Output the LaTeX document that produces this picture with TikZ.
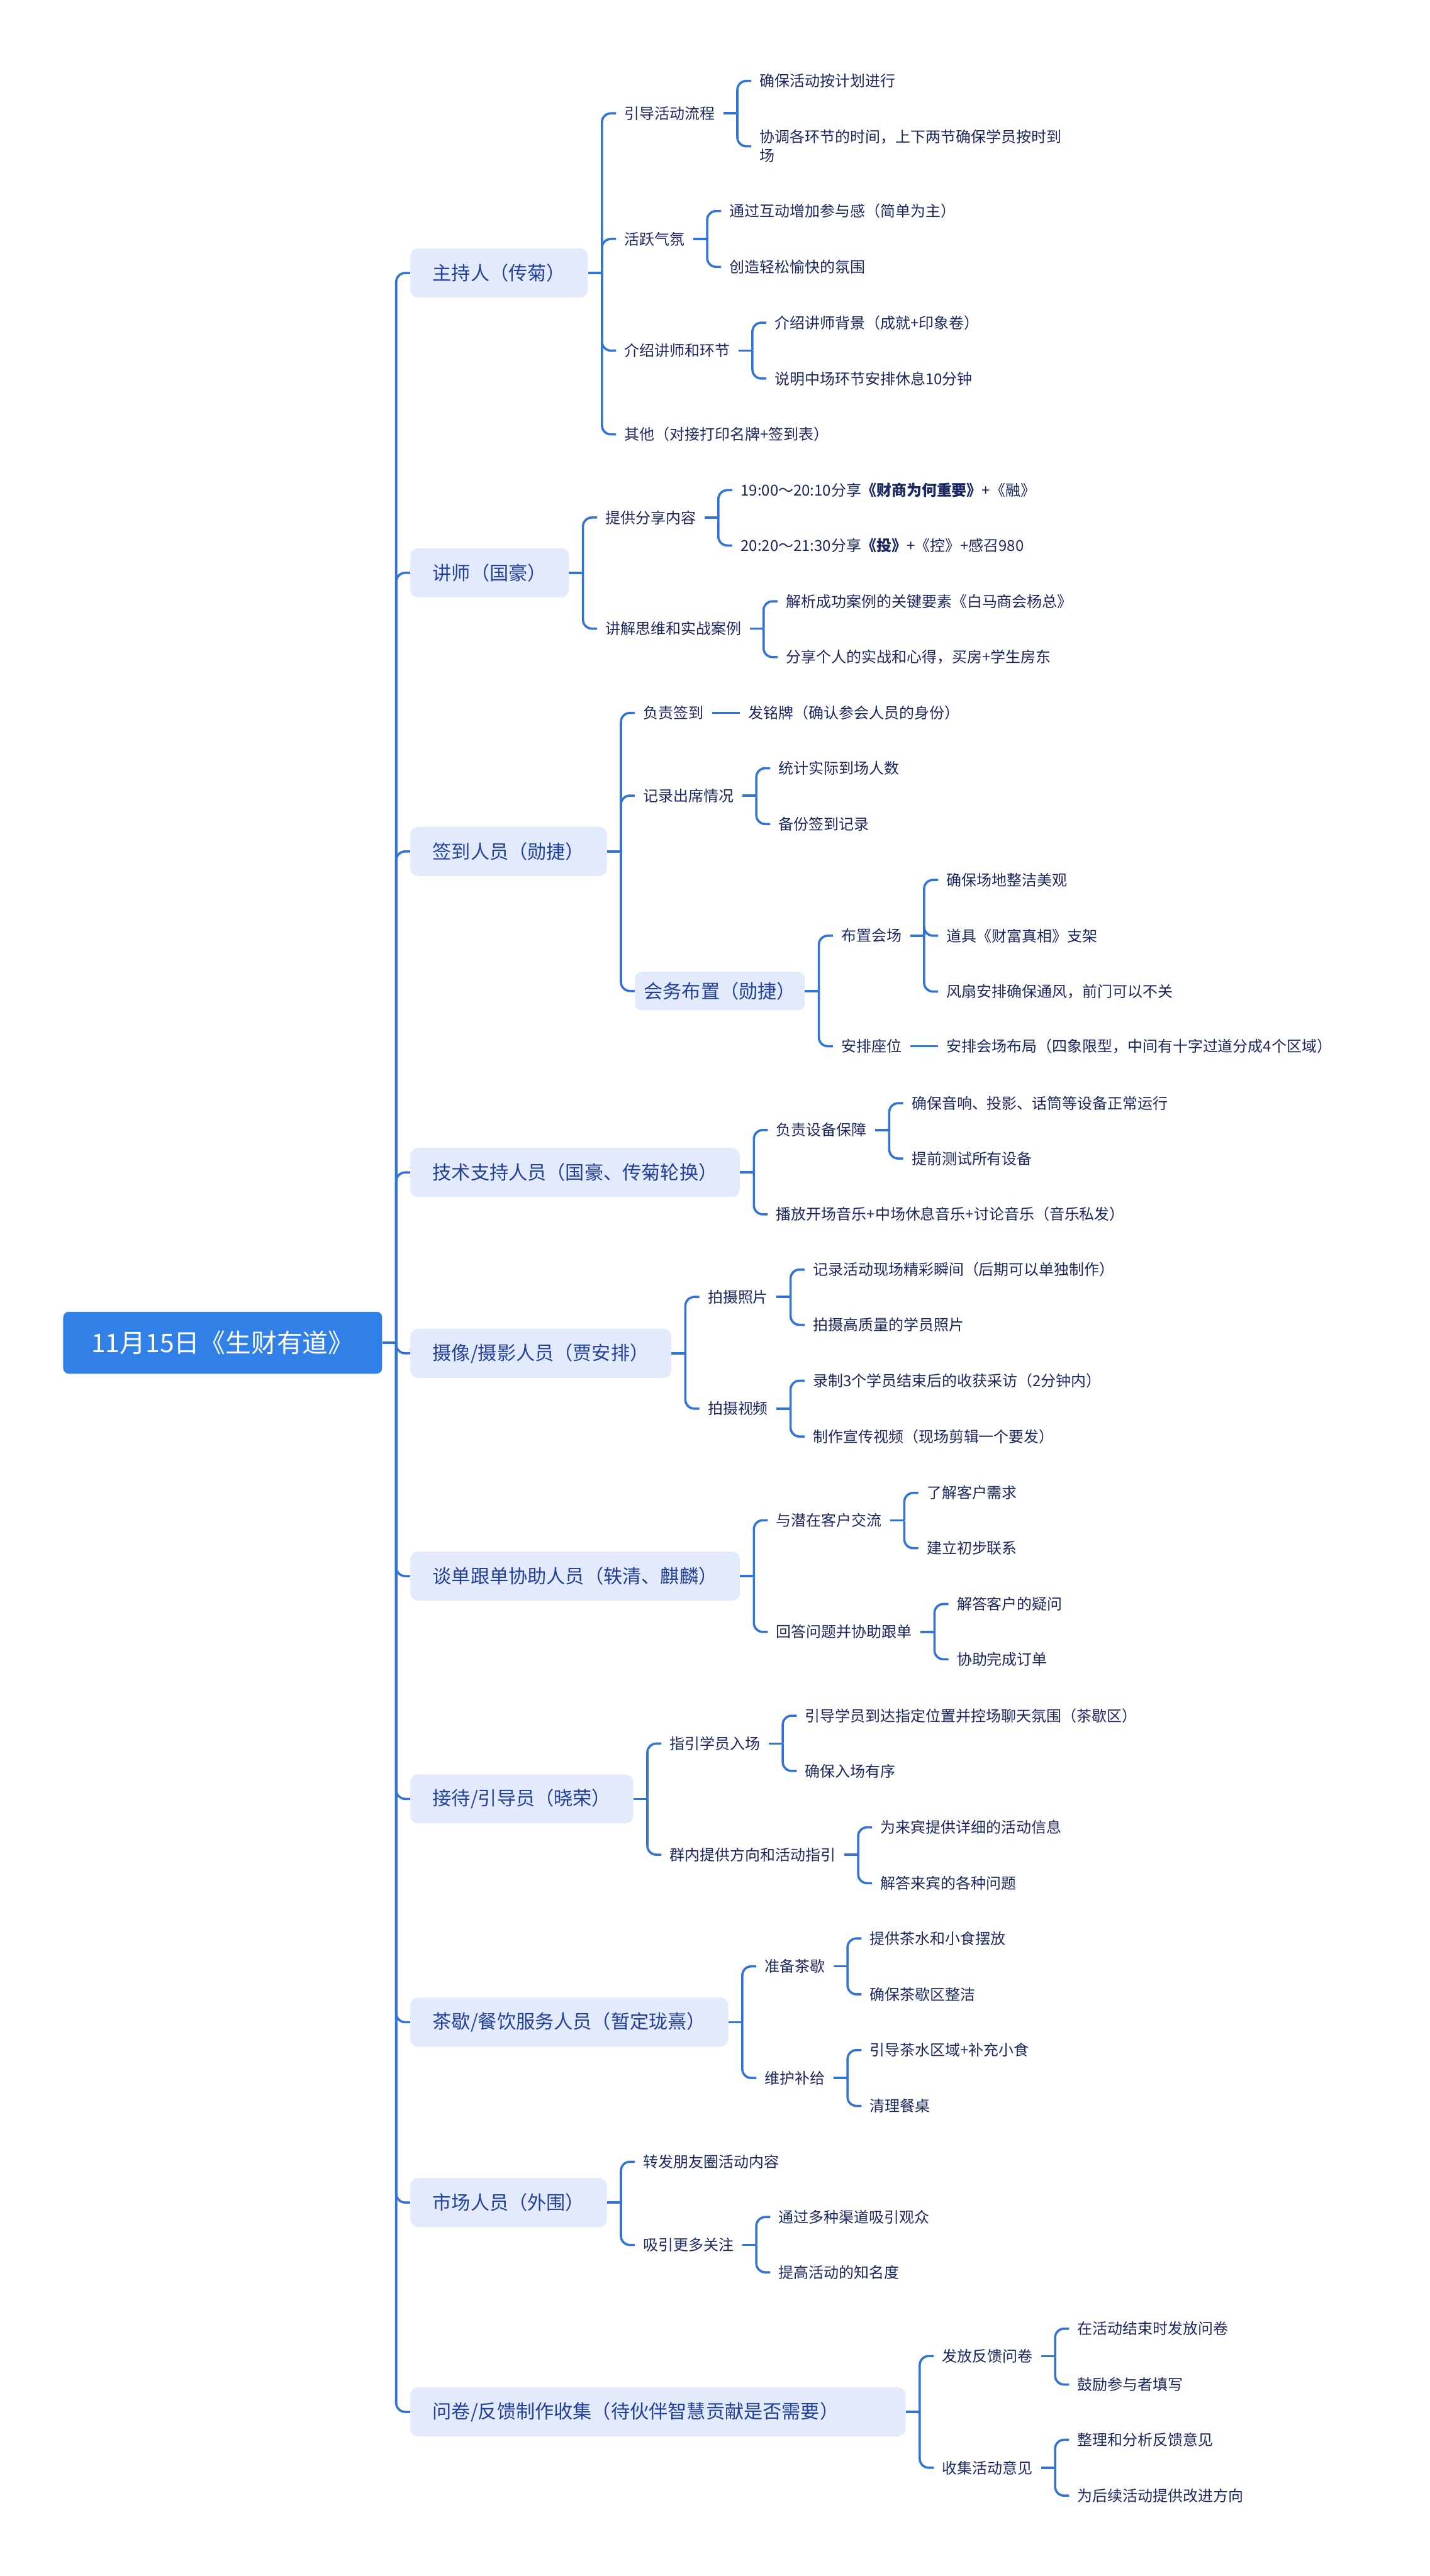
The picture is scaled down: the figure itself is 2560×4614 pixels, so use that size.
\documentclass[tikz,border=0pt]{standalone}
\usepackage{fontspec}
\setmainfont{Noto Sans CJK SC}
\usetikzlibrary{calc}
\definecolor{rootblue}{HTML}{3080E8}
\definecolor{lvlfill}{HTML}{E2EAFB}
\definecolor{linec}{HTML}{3273D6}
\definecolor{lonetext}{HTML}{22419A}
\definecolor{leaftext}{HTML}{1B2760}
\tikzset{
  rootnode/.style={fill=rootblue,text=white,rounded corners=10pt,minimum width=571pt,minimum height=111pt,inner sep=0pt,font=\fontsize{46}{55}\selectfont,anchor=west},
  lvlone/.style={fill=lvlfill,text=lonetext,rounded corners=14pt,minimum height=88pt,inner xsep=40pt,inner ysep=0pt,font=\fontsize{34}{41}\selectfont,anchor=west},
  lvlbox/.style={fill=lvlfill,text=lonetext,rounded corners=12pt,minimum height=69pt,inner xsep=16pt,inner ysep=0pt,font=\fontsize{34}{41}\selectfont,anchor=west},
  leaf/.style={text=leaftext,inner xsep=15pt,inner ysep=4pt,font=\fontsize{27}{34}\selectfont,anchor=west,align=left},
  link/.style={draw=linec,line width=4pt},
}
\newcommand{\kid}[5][leaf]{%
  \path (#2.east) ++(50pt,0pt) coordinate (tmp);
  \coordinate (ty) at (0,#4);
  \node[#1] (#3) at (tmp |- ty) {#5};
  \path (#2.east) ++(25pt,0pt) coordinate (v#3);
  \draw[link] (#2.east) -- (v#3);
  \draw[link,rounded corners=16pt] (v#3) |- (#3.west);
}
\newcommand{\kidline}[4]{%
  \path (#1.east) ++(50pt,0pt) coordinate (tmp);
  \node[leaf] (#2) at (tmp) {#4};
  \draw[link] (#1.east) -- (#2.west);
}
\begin{document}
\begin{tikzpicture}[x=1pt,y=-1pt]
\fill[white] (0,0) rectangle (2560,4614);
\useasboundingbox (0,0) rectangle (2560,4614);
\node[rootnode] (root) at (113,2405) {11月15日《生财有道》};

% 1
\kid[lvlone]{root}{n1}{489}{主持人（传菊）}
\kid{n1}{n1a}{203}{引导活动流程}
\kid{n1a}{n1aa}{145}{确保活动按计划进行}
\kid{n1a}{n1ab}{262}{协调各环节的时间，上下两节确保学员按时到\\场}
\kid{n1}{n1b}{428}{活跃气氛}
\kid{n1b}{n1ba}{378}{通过互动增加参与感（简单为主）}
\kid{n1b}{n1bb}{478}{创造轻松愉快的氛围}
\kid{n1}{n1c}{628}{介绍讲师和环节}
\kid{n1c}{n1ca}{578}{介绍讲师背景（成就+印象卷）}
\kid{n1c}{n1cb}{678}{说明中场环节安排休息10分钟}
\kid{n1}{n1d}{778}{其他（对接打印名牌+签到表）}

% 2
\kid[lvlone]{root}{n2}{1026}{讲师（国豪）}
\kid{n2}{n2a}{927}{提供分享内容}
\kid{n2a}{n2aa}{878}{19:00～20:10分享{\bfseries《财商为何重要》}+《融》}
\kid{n2a}{n2ab}{977}{20:20～21:30分享{\bfseries《投》}+《控》+感召980}
\kid{n2}{n2b}{1126}{讲解思维和实战案例}
\kid{n2b}{n2ba}{1077}{解析成功案例的关键要素《白马商会杨总》}
\kid{n2b}{n2bb}{1177}{分享个人的实战和心得，买房+学生房东}

% 3
\kid[lvlone]{root}{n3}{1525}{签到人员（勋捷）}
\kid{n3}{n3a}{1277}{负责签到}
\kidline{n3a}{n3aa}{1277}{发铭牌（确认参会人员的身份）}
\kid{n3}{n3b}{1425}{记录出席情况}
\kid{n3b}{n3ba}{1376}{统计实际到场人数}
\kid{n3b}{n3bb}{1476}{备份签到记录}
\kid[lvlbox]{n3}{n3c}{1775}{会务布置（勋捷）}
\kid{n3c}{n3ca}{1676}{布置会场}
\kid{n3ca}{n3caa}{1576}{确保场地整洁美观}
\kid{n3ca}{n3cab}{1676}{道具《财富真相》支架}
\kid{n3ca}{n3cac}{1776}{风扇安排确保通风，前门可以不关}
\kid{n3c}{n3cb}{1874}{安排座位}
\kidline{n3cb}{n3cba}{1874}{安排会场布局（四象限型，中间有十字过道分成4个区域）}

% 4
\kid[lvlone]{root}{n4}{2100}{技术支持人员（国豪、传菊轮换）}
\kid{n4}{n4a}{2024}{负责设备保障}
\kid{n4a}{n4aa}{1976}{确保音响、投影、话筒等设备正常运行}
\kid{n4a}{n4ab}{2075}{提前测试所有设备}
\kid{n4}{n4b}{2175}{播放开场音乐+中场休息音乐+讨论音乐（音乐私发）}

% 5
\kid[lvlone]{root}{n5}{2424}{摄像/摄影人员（贾安排）}
\kid{n5}{n5a}{2323}{拍摄照片}
\kid{n5a}{n5aa}{2274}{记录活动现场精彩瞬间（后期可以单独制作）}
\kid{n5a}{n5ab}{2373}{拍摄高质量的学员照片}
\kid{n5}{n5b}{2523}{拍摄视频}
\kid{n5b}{n5ba}{2473}{录制3个学员结束后的收获采访（2分钟内）}
\kid{n5b}{n5bb}{2573}{制作宣传视频（现场剪辑一个要发）}

% 6
\kid[lvlone]{root}{n6}{2823}{谈单跟单协助人员（轶清、麒麟）}
\kid{n6}{n6a}{2723}{与潜在客户交流}
\kid{n6a}{n6aa}{2674}{了解客户需求}
\kid{n6a}{n6ab}{2773}{建立初步联系}
\kid{n6}{n6b}{2923}{回答问题并协助跟单}
\kid{n6b}{n6ba}{2873}{解答客户的疑问}
\kid{n6b}{n6bb}{2972}{协助完成订单}

% 7
\kid[lvlone]{root}{n7}{3222}{接待/引导员（晓荣）}
\kid{n7}{n7a}{3123}{指引学员入场}
\kid{n7a}{n7aa}{3073}{引导学员到达指定位置并控场聊天氛围（茶歇区）}
\kid{n7a}{n7ab}{3172}{确保入场有序}
\kid{n7}{n7b}{3322}{群内提供方向和活动指引}
\kid{n7b}{n7ba}{3273}{为来宾提供详细的活动信息}
\kid{n7b}{n7bb}{3373}{解答来宾的各种问题}

% 8
\kid[lvlone]{root}{n8}{3622}{茶歇/餐饮服务人员（暂定珑熹）}
\kid{n8}{n8a}{3522}{准备茶歇}
\kid{n8a}{n8aa}{3472}{提供茶水和小食摆放}
\kid{n8a}{n8ab}{3572}{确保茶歇区整洁}
\kid{n8}{n8b}{3722}{维护补给}
\kid{n8b}{n8ba}{3672}{引导茶水区域+补充小食}
\kid{n8b}{n8bb}{3772}{清理餐桌}

% 9
\kid[lvlone]{root}{n9}{3945}{市场人员（外围）}
\kid{n9}{n9a}{3872}{转发朋友圈活动内容}
\kid{n9}{n9b}{4021}{吸引更多关注}
\kid{n9b}{n9ba}{3971}{通过多种渠道吸引观众}
\kid{n9b}{n9bb}{4070}{提高活动的知名度}

% 10
\kid[lvlone,text width=807pt,align=left]{root}{n10}{4320}{问卷/反馈制作收集（待伙伴智慧贡献是否需要）}
\kid{n10}{n10a}{4220}{发放反馈问卷}
\kid{n10a}{n10aa}{4171}{在活动结束时发放问卷}
\kid{n10a}{n10ab}{4271}{鼓励参与者填写}
\kid{n10}{n10b}{4420}{收集活动意见}
\kid{n10b}{n10ba}{4370}{整理和分析反馈意见}
\kid{n10b}{n10bb}{4470}{为后续活动提供改进方向}
\end{tikzpicture}
\end{document}
